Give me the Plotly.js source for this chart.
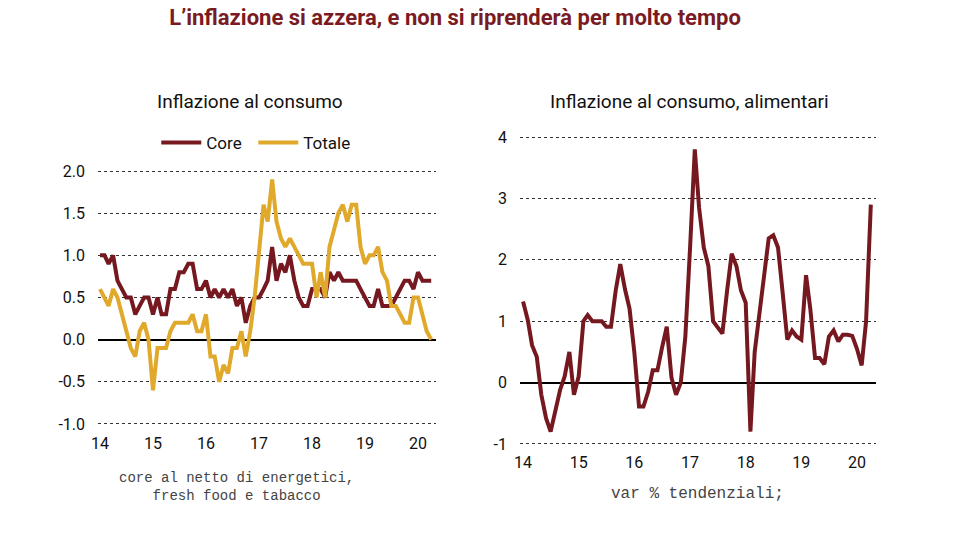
<!DOCTYPE html>
<html>
<head>
<meta charset="utf-8">
<script src="https://cdn.plot.ly/plotly-3.0.1.min.js"></script>
<style>html,body{margin:0;padding:0;background:#fff;}#chart{width:953px;height:533px;}</style>
</head>
<body>
<div id="chart"></div>
<script>
// Monthly data, Jan 2014 - Apr 2020
const startYear = 2014;
const core = [1.0,1.0,0.9,1.0,0.7,0.6,0.5,0.5,0.3,0.4,0.5,0.5,
 0.3,0.5,0.3,0.3,0.6,0.6,0.8,0.8,0.9,0.9,0.6,0.6,
 0.7,0.5,0.6,0.5,0.6,0.5,0.6,0.4,0.5,0.2,0.4,0.5,
 0.5,0.6,0.7,1.1,0.7,0.9,0.8,1.0,0.7,0.5,0.4,0.4,
 0.6,0.6,0.6,0.5,0.8,0.7,0.8,0.7,0.7,0.7,0.7,0.6,
 0.5,0.4,0.4,0.6,0.4,0.4,0.4,0.5,0.6,0.7,0.7,0.6,
 0.8,0.7,0.7,0.7];
const totale = [0.6,0.5,0.4,0.6,0.5,0.3,0.1,-0.1,-0.2,0.1,0.2,0.0,
 -0.6,-0.1,-0.1,-0.1,0.1,0.2,0.2,0.2,0.2,0.3,0.1,0.1,
 0.3,-0.2,-0.2,-0.5,-0.3,-0.4,-0.1,-0.1,0.1,-0.2,0.1,0.5,
 1.0,1.6,1.4,1.9,1.4,1.2,1.1,1.2,1.1,1.0,0.9,0.9,
 0.9,0.5,0.8,0.5,1.1,1.3,1.5,1.6,1.4,1.6,1.6,1.1,
 0.9,1.0,1.0,1.1,0.8,0.7,0.4,0.4,0.3,0.2,0.2,0.5,
 0.5,0.3,0.1,0.0];
const alimentari = [1.32,1.02,0.61,0.42,-0.2,-0.58,-0.8,-0.42,-0.12,0.1,0.5,-0.2,
 0.1,1.0,1.1,1.0,1.0,1.0,0.91,0.91,1.5,1.93,1.52,1.2,
 0.5,-0.39,-0.39,-0.15,0.2,0.2,0.57,0.91,0.08,-0.2,0.0,0.75,
 2.2,3.8,2.85,2.2,1.9,1.0,0.9,0.8,1.5,2.1,1.9,1.5,
 1.3,-0.8,0.5,1.1,1.8,2.35,2.4,2.2,1.45,0.7,0.85,0.75,
 0.7,1.75,1.2,0.4,0.4,0.3,0.75,0.85,0.67,0.78,0.78,0.76,
 0.55,0.28,1.0,2.9];
const leftTicks = [-1.0,-0.5,0.0,0.5,1.0,1.5,2.0];
const leftTickText = ['-1.0','-0.5','0.0','0.5','1.0','1.5','2.0'];
const rightTicks = [-1,0,1,2,3,4];
const rightTickText = ['-1','0','1','2','3','4'];

const months = core.map((_, i) => {
  const y = startYear + Math.floor(i / 12);
  const m = (i % 12) + 1;
  return y + '-' + (m < 10 ? '0' + m : m) + '-01';
});

const RED = '#761820';
const GOLD = '#e0a92b';
const baseFont = 'Roboto, "Noto Sans", sans-serif';
const monoFont = '"Liberation Mono", "DejaVu Sans Mono", monospace';

const traces = [
  {x: months, y: core, name: 'Core', type: 'scatter', mode: 'lines',
   line: {color: RED, width: 4}, xaxis: 'x', yaxis: 'y'},
  {x: months, y: totale, name: 'Totale', type: 'scatter', mode: 'lines',
   line: {color: GOLD, width: 4}, xaxis: 'x', yaxis: 'y'},
  {x: months, y: alimentari, name: 'Alimentari', type: 'scatter', mode: 'lines',
   line: {color: RED, width: 4}, xaxis: 'x2', yaxis: 'y2', showlegend: false}
];

const xCommon = {
  type: 'date', tickformat: '%y', dtick: 'M12', tick0: '2014-01-01',
  showgrid: false, zeroline: false, showline: false, ticks: '',
  tickfont: {family: baseFont, size: 16, color: '#111'}, ticklabelstandoff: 5
};
const yCommon = {
  showgrid: true, gridcolor: '#333', griddash: 'dot', gridwidth: 1,
  zeroline: true, zerolinecolor: '#000', zerolinewidth: 2,
  showline: false, ticks: '', tickmode: 'array',
  tickfont: {family: baseFont, size: 16, color: '#111'}, ticklabelstandoff: 12
};

const layout = {
  width: 953, height: 533,
  margin: {l: 0, r: 0, t: 0, b: 0},
  paper_bgcolor: '#fff', plot_bgcolor: '#fff',
  title: {text: 'L\u2019inflazione si azzera, e non si riprenderà per molto tempo',
    font: {family: baseFont, size: 22, color: '#7a1a22', weight: 'bold'},
    x: 0.4775, xanchor: 'center', y: 0.968, yanchor: 'middle'},
  showlegend: true,
  legend: {orientation: 'h', x: 0.164, xanchor: 'left', y: 0.732, yanchor: 'middle',
    entrywidth: 42, itemwidth: 40,
    font: {family: baseFont, size: 17, color: '#111'}, bgcolor: 'rgba(0,0,0,0)'},
  xaxis: Object.assign({}, xCommon, {domain: [98/953, 436/953], anchor: 'y',
    range: ['2013-12-18', '2020-05-04']}),
  yaxis: Object.assign({}, yCommon, {domain: [(533-426.5)/533, (533-168.5)/533], anchor: 'x',
    range: [-1.03, 2.03], tickvals: leftTicks, ticktext: leftTickText}),
  xaxis2: Object.assign({}, xCommon, {domain: [520/953, 876/953], anchor: 'y2',
    range: ['2013-12-12', '2020-05-05']}),
  yaxis2: Object.assign({}, yCommon, {domain: [(533-445.8)/533, (533-135.2)/533], anchor: 'x2',
    range: [-1.03, 4.03], tickvals: rightTicks, ticktext: rightTickText}),
  annotations: [
    {text: 'Inflazione al consumo', xref: 'paper', yref: 'paper', x: 250/953, y: (533-101)/533,
     xanchor: 'center', yanchor: 'middle', showarrow: false,
     font: {family: baseFont, size: 19, color: '#111'}},
    {text: 'Inflazione al consumo, alimentari', xref: 'paper', yref: 'paper', x: 689/953, y: (533-101)/533,
     xanchor: 'center', yanchor: 'middle', showarrow: false,
     font: {family: baseFont, size: 19, color: '#111'}},
    {text: 'core al netto di energetici,<br>fresh food e tabacco', xref: 'paper', yref: 'paper',
     x: 236/953, y: (533-487)/533, xanchor: 'center', yanchor: 'middle', showarrow: false, align: 'center',
     font: {family: monoFont, size: 14, color: '#444'}},
    {text: 'var % tendenziali;', xref: 'paper', yref: 'paper',
     x: 697/953, y: (533-494)/533, xanchor: 'center', yanchor: 'middle', showarrow: false,
     font: {family: monoFont, size: 16, color: '#444'}}
  ]
};

Plotly.newPlot('chart', traces, layout, {displayModeBar: false, staticPlot: true});
</script>
</body>
</html>
